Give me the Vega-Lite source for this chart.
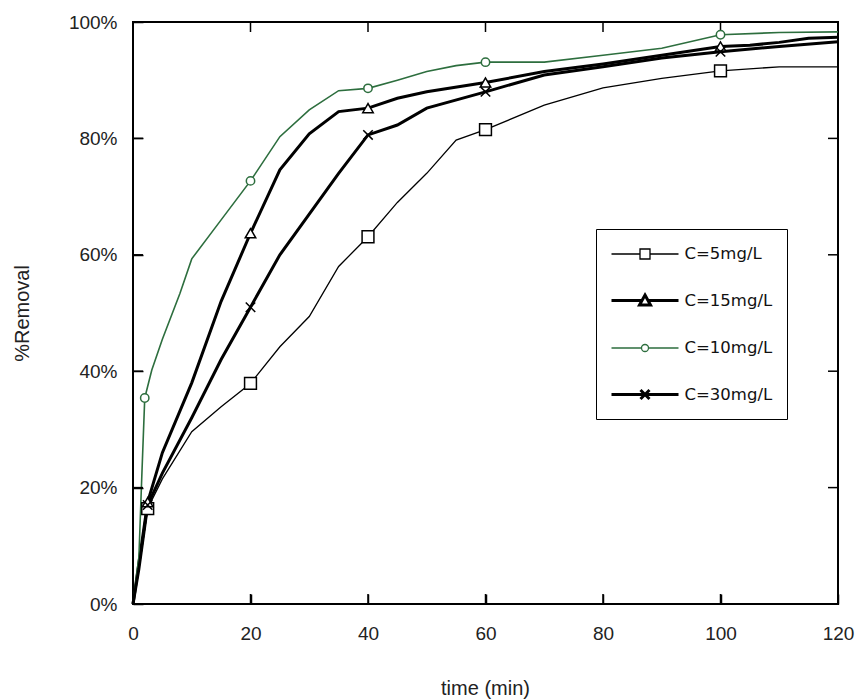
{
  "$schema": "https://vega.github.io/schema/vega-lite/v6.json",
  "width": 705,
  "height": 582,
  "autosize": {"type": "none"},
  "padding": {"left": 133, "top": 22, "right": 21, "bottom": 96},
  "background": "white",
  "config": {
    "view": {"stroke": "black", "strokeWidth": 2},
    "axis": {"grid": false, "domain": false, "labelFont": "Liberation Sans", "labelFontSize": 19, "labelColor": "#222", "labelFlush": false, "titleFont": "Liberation Sans", "titleFontWeight": "normal", "titleColor": "#222"}
  },
  "datasets": {
    "curves": [
      {"s": "C=5mg/L", "t": 0, "r": 0}, {"s": "C=5mg/L", "t": 1, "r": 6}, {"s": "C=5mg/L", "t": 2.5, "r": 16.4}, {"s": "C=5mg/L", "t": 5, "r": 21.5}, {"s": "C=5mg/L", "t": 10, "r": 29.6}, {"s": "C=5mg/L", "t": 15, "r": 33.9}, {"s": "C=5mg/L", "t": 20, "r": 37.9}, {"s": "C=5mg/L", "t": 25, "r": 44.2}, {"s": "C=5mg/L", "t": 30, "r": 49.4}, {"s": "C=5mg/L", "t": 35, "r": 58}, {"s": "C=5mg/L", "t": 40, "r": 63.1}, {"s": "C=5mg/L", "t": 45, "r": 69}, {"s": "C=5mg/L", "t": 50, "r": 74}, {"s": "C=5mg/L", "t": 55, "r": 79.7}, {"s": "C=5mg/L", "t": 60, "r": 81.5}, {"s": "C=5mg/L", "t": 70, "r": 85.7}, {"s": "C=5mg/L", "t": 80, "r": 88.7}, {"s": "C=5mg/L", "t": 90, "r": 90.3}, {"s": "C=5mg/L", "t": 100, "r": 91.6}, {"s": "C=5mg/L", "t": 110, "r": 92.3}, {"s": "C=5mg/L", "t": 120, "r": 92.3},
      {"s": "C=15mg/L", "t": 0, "r": 0}, {"s": "C=15mg/L", "t": 1, "r": 7}, {"s": "C=15mg/L", "t": 2.5, "r": 17.5}, {"s": "C=15mg/L", "t": 5, "r": 26}, {"s": "C=15mg/L", "t": 10, "r": 38}, {"s": "C=15mg/L", "t": 15, "r": 52}, {"s": "C=15mg/L", "t": 20, "r": 63.7}, {"s": "C=15mg/L", "t": 25, "r": 74.6}, {"s": "C=15mg/L", "t": 30, "r": 80.8}, {"s": "C=15mg/L", "t": 35, "r": 84.6}, {"s": "C=15mg/L", "t": 40, "r": 85.2}, {"s": "C=15mg/L", "t": 45, "r": 86.9}, {"s": "C=15mg/L", "t": 50, "r": 88}, {"s": "C=15mg/L", "t": 60, "r": 89.6}, {"s": "C=15mg/L", "t": 70, "r": 91.5}, {"s": "C=15mg/L", "t": 80, "r": 92.8}, {"s": "C=15mg/L", "t": 90, "r": 94.3}, {"s": "C=15mg/L", "t": 100, "r": 95.8}, {"s": "C=15mg/L", "t": 105, "r": 96}, {"s": "C=15mg/L", "t": 110, "r": 96.5}, {"s": "C=15mg/L", "t": 115, "r": 97.2}, {"s": "C=15mg/L", "t": 120, "r": 97.4},
      {"s": "C=10mg/L", "t": 0, "r": 0}, {"s": "C=10mg/L", "t": 1, "r": 8}, {"s": "C=10mg/L", "t": 1.5, "r": 22}, {"s": "C=10mg/L", "t": 2, "r": 35.4}, {"s": "C=10mg/L", "t": 3.2, "r": 40.2}, {"s": "C=10mg/L", "t": 5, "r": 45.5}, {"s": "C=10mg/L", "t": 8, "r": 53.4}, {"s": "C=10mg/L", "t": 10, "r": 59.3}, {"s": "C=10mg/L", "t": 15, "r": 66}, {"s": "C=10mg/L", "t": 20, "r": 72.7}, {"s": "C=10mg/L", "t": 25, "r": 80.3}, {"s": "C=10mg/L", "t": 30, "r": 84.9}, {"s": "C=10mg/L", "t": 35, "r": 88.2}, {"s": "C=10mg/L", "t": 40, "r": 88.6}, {"s": "C=10mg/L", "t": 45, "r": 90}, {"s": "C=10mg/L", "t": 50, "r": 91.5}, {"s": "C=10mg/L", "t": 55, "r": 92.5}, {"s": "C=10mg/L", "t": 60, "r": 93.1}, {"s": "C=10mg/L", "t": 70, "r": 93.1}, {"s": "C=10mg/L", "t": 80, "r": 94.3}, {"s": "C=10mg/L", "t": 90, "r": 95.5}, {"s": "C=10mg/L", "t": 100, "r": 97.8}, {"s": "C=10mg/L", "t": 110, "r": 98.2}, {"s": "C=10mg/L", "t": 120, "r": 98.3},
      {"s": "C=30mg/L", "t": 0, "r": 0}, {"s": "C=30mg/L", "t": 1, "r": 6}, {"s": "C=30mg/L", "t": 2.5, "r": 17}, {"s": "C=30mg/L", "t": 5, "r": 22.5}, {"s": "C=30mg/L", "t": 10, "r": 32}, {"s": "C=30mg/L", "t": 15, "r": 42}, {"s": "C=30mg/L", "t": 20, "r": 51}, {"s": "C=30mg/L", "t": 25, "r": 60}, {"s": "C=30mg/L", "t": 30, "r": 67}, {"s": "C=30mg/L", "t": 35, "r": 74}, {"s": "C=30mg/L", "t": 40, "r": 80.6}, {"s": "C=30mg/L", "t": 45, "r": 82.3}, {"s": "C=30mg/L", "t": 50, "r": 85.2}, {"s": "C=30mg/L", "t": 60, "r": 88}, {"s": "C=30mg/L", "t": 70, "r": 90.9}, {"s": "C=30mg/L", "t": 80, "r": 92.3}, {"s": "C=30mg/L", "t": 90, "r": 93.8}, {"s": "C=30mg/L", "t": 100, "r": 94.9}, {"s": "C=30mg/L", "t": 110, "r": 95.8}, {"s": "C=30mg/L", "t": 120, "r": 96.6}
    ],
    "markers": [
      {"s": "C=5mg/L", "t": 2.5, "r": 16.4}, {"s": "C=5mg/L", "t": 20, "r": 37.9}, {"s": "C=5mg/L", "t": 40, "r": 63.1}, {"s": "C=5mg/L", "t": 60, "r": 81.5}, {"s": "C=5mg/L", "t": 100, "r": 91.6},
      {"s": "C=15mg/L", "t": 2.5, "r": 17.5}, {"s": "C=15mg/L", "t": 20, "r": 63.7}, {"s": "C=15mg/L", "t": 40, "r": 85.2}, {"s": "C=15mg/L", "t": 60, "r": 89.6}, {"s": "C=15mg/L", "t": 100, "r": 95.8},
      {"s": "C=10mg/L", "t": 2, "r": 35.4}, {"s": "C=10mg/L", "t": 20, "r": 72.7}, {"s": "C=10mg/L", "t": 40, "r": 88.6}, {"s": "C=10mg/L", "t": 60, "r": 93.1}, {"s": "C=10mg/L", "t": 100, "r": 97.8},
      {"s": "C=30mg/L", "t": 2.5, "r": 17}, {"s": "C=30mg/L", "t": 20, "r": 51}, {"s": "C=30mg/L", "t": 40, "r": 80.6}, {"s": "C=30mg/L", "t": 60, "r": 88}, {"s": "C=30mg/L", "t": 100, "r": 94.9}
    ],
    "xticks": [{"v": 20}, {"v": 40}, {"v": 60}, {"v": 80}, {"v": 100}],
    "yticks": [{"v": 20}, {"v": 40}, {"v": 60}, {"v": 80}]
  },
  "layer": [
    {
      "data": {"name": "curves"},
      "mark": {"type": "line", "interpolate": "linear"},
      "encoding": {
        "x": {"field": "t", "type": "quantitative", "scale": {"domain": [0, 120], "nice": false},
          "axis": {"orient": "bottom", "values": [0, 20, 40, 60, 80, 100, 120], "ticks": true, "tickSize": 10, "tickColor": "#000000", "tickWidth": 1.5, "offset": -10, "zindex": 1, "labelPadding": 20, "title": "time (min)", "titleFontSize": 20, "titleX": 352, "titleY": 94, "titleBaseline": "middle", "titleAlign": "center"}},
        "y": {"field": "r", "type": "quantitative", "scale": {"domain": [0, 100], "nice": false},
          "axis": {"orient": "left", "values": [0, 20, 40, 60, 80, 100], "ticks": true, "tickSize": 10, "tickColor": "#000000", "tickWidth": 1.5, "offset": -10, "zindex": 1, "labelExpr": "datum.value + '%'", "labelPadding": 16, "title": "%Removal", "titleFontSize": 20, "titleAngle": 270, "titleX": -121, "titleY": 291, "titleBaseline": "middle", "titleAlign": "center"}},
        "stroke": {"field": "s", "type": "nominal", "scale": {"domain": ["C=5mg/L", "C=15mg/L", "C=10mg/L", "C=30mg/L"], "range": ["#000000", "#000000", "#2d6e3e", "#000000"]}, "legend": null},
        "strokeWidth": {"field": "s", "type": "nominal", "scale": {"type": "ordinal", "domain": ["C=5mg/L", "C=15mg/L", "C=10mg/L", "C=30mg/L"], "range": [1.3, 3, 1.6, 3]}, "legend": null}
      }
    },
    {
      "data": {"name": "xticks"},
      "mark": {"type": "tick", "orient": "vertical", "color": "black", "size": 10, "thickness": 1.5, "opacity": 1},
      "encoding": {"x": {"field": "v", "type": "quantitative", "axis": null}, "y": {"datum": 0.86, "type": "quantitative", "axis": null}}
    },
    {
      "data": {"name": "xticks"},
      "mark": {"type": "tick", "orient": "vertical", "color": "black", "size": 10, "thickness": 1.5, "opacity": 1},
      "encoding": {"x": {"field": "v", "type": "quantitative", "axis": null}, "y": {"datum": 99.14, "type": "quantitative", "axis": null}}
    },
    {
      "data": {"name": "yticks"},
      "mark": {"type": "tick", "orient": "horizontal", "color": "black", "size": 10, "thickness": 1.5, "opacity": 1},
      "encoding": {"y": {"field": "v", "type": "quantitative", "axis": null}, "x": {"datum": 0.85, "type": "quantitative", "axis": null}}
    },
    {
      "data": {"name": "yticks"},
      "mark": {"type": "tick", "orient": "horizontal", "color": "black", "size": 10, "thickness": 1.5, "opacity": 1},
      "encoding": {"y": {"field": "v", "type": "quantitative", "axis": null}, "x": {"datum": 119.15, "type": "quantitative", "axis": null}}
    },
    {
      "data": {"name": "markers"},
      "mark": {"type": "point", "filled": true, "fill": "white", "strokeWidth": 1.5, "opacity": 1},
      "encoding": {
        "x": {"field": "t", "type": "quantitative", "axis": null},
        "y": {"field": "r", "type": "quantitative", "axis": null},
        "shape": {"field": "s", "type": "nominal", "scale": {"domain": ["C=5mg/L", "C=15mg/L", "C=10mg/L", "C=30mg/L"], "range": ["square", "triangle-up", "circle", "M-1,-1L1,1M-1,1L1,-1"]}, "legend": null},
        "stroke": {"field": "s", "type": "nominal", "scale": {"domain": ["C=5mg/L", "C=15mg/L", "C=10mg/L", "C=30mg/L"], "range": ["#000000", "#000000", "#2d6e3e", "#000000"]}, "legend": null},
        "size": {"field": "s", "type": "nominal", "scale": {"type": "ordinal", "domain": ["C=5mg/L", "C=15mg/L", "C=10mg/L", "C=30mg/L"], "range": [140, 110, 70, 90]}, "legend": null}
      }
    },
    {
      "data": {"name": "markers"},
      "mark": {"type": "point", "opacity": 0},
      "encoding": {
        "x": {"field": "t", "type": "quantitative", "axis": null},
        "y": {"field": "r", "type": "quantitative", "axis": null},
        "stroke": {"field": "s", "type": "nominal", "scale": {"domain": ["C=5mg/L", "C=15mg/L", "C=10mg/L", "C=30mg/L"], "range": ["#000000", "#000000", "#2d6e3e", "#000000"]},
          "legend": {"orient": "none", "legendX": 463, "legendY": 207, "title": null, "padding": 14, "strokeColor": "black", "fillColor": "white", "symbolSize": 400, "symbolOffset": 23.5, "labelOffset": 28, "rowPadding": 26, "labelFont": "DejaVu Sans", "labelFontSize": 16.5, "labelColor": "#111", "symbolFillColor": "white", "symbolOpacity": 1,
            "encode": {"labels": {"update": {"fill": {"signal": "datum.value === 'C=10mg/L' ? '#2d6e3e' : '#111'"}}}, "symbols": {"update": {"opacity": {"value": 1}, "fill": {"value": "white"}}}}}},
        "shape": {"field": "s", "type": "nominal", "scale": {"domain": ["C=5mg/L", "C=15mg/L", "C=10mg/L", "C=30mg/L"], "range": [
          "M-3.35,0H-0.5M0.5,0H3.35M-0.5,-0.5H0.5V0.5H-0.5Z",
          "M-3.35,0H-0.3M0.3,0H3.35M0,-0.55L0.55,0.45H-0.55Z",
          "M-3.35,0H-0.35M0.35,0H3.35M-0.35,0A0.35,0.35 0 1,0 0.35,0A0.35,0.35 0 1,0 -0.35,0Z",
          "M-3.35,0H3.35M-0.45,-0.45L0.45,0.45M-0.45,0.45L0.45,-0.45"]}},
        "strokeWidth": {"field": "s", "type": "nominal", "scale": {"type": "ordinal", "domain": ["C=5mg/L", "C=15mg/L", "C=10mg/L", "C=30mg/L"], "range": [1.3, 3, 1.3, 3]}}
      }
    }
  ],
  "resolve": {
    "scale": {"stroke": "independent", "shape": "independent", "strokeWidth": "independent", "size": "independent"},
    "axis": {"x": "independent", "y": "independent"},
    "legend": {"stroke": "independent", "shape": "independent", "strokeWidth": "independent"}
  }
}
